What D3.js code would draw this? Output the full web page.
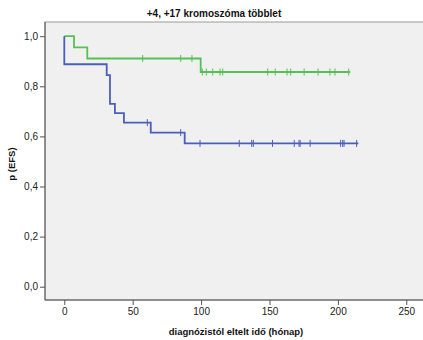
<!DOCTYPE html>
<html lang="hu">
<head>
<meta charset="utf-8">
<title>+4, +17 kromoszóma többlet</title>
<script src="https://d3js.org/d3.v7.min.js"></script>
<style>
    body { margin: 0; background: #fff; }
    svg { display: block; font-family: "Liberation Sans", Arial, sans-serif; }
    .axis text { font-size: 10px; fill: #222; }
    .axis path, .axis line { stroke: #555; }
</style>
</head>
<body>
<script>
// Kaplan-Meier steps: [time (month), survival]
const blueSteps = [[0, 1.0], [0, 0.888], [31, 0.845], [33.4, 0.730], [37, 0.693], [43.6, 0.655], [63.2, 0.615], [88, 0.572], [215, 0.572]];
const blueCensored = [60.7, 85.1, 99.2, 127.9, 137, 138.2, 152.2, 168.1, 171.6, 172.4, 179.7, 202, 203.5, 204.5, 213.7];
const greenSteps = [[0, 1.0], [7.1, 0.955], [16.8, 0.911], [99.7, 0.857], [209, 0.857]];
const greenCensored = [57.3, 85.1, 93.3, 100.9, 103.8, 108.5, 113.8, 115.8, 148.7, 154.2, 162.8, 165.5, 175.3, 185.5, 194.2, 197.9, 207.9];
const xTicks = [0, 50, 100, 150, 200, 250];
const yTicks = [0, 0.2, 0.4, 0.6, 0.8, 1.0];

const w = 423, h = 340;
const plot = {left: 45, top: 22, right: 430, bottom: 300};

const svg = d3.select("body").append("svg")
    .attr("width", w)
    .attr("height", h);

const x = d3.scaleLinear().domain([0, 250]).range([64.3, 406.3]);
const y = d3.scaleLinear().domain([0, 1]).range([286.7, 36.2]);

// plot background + frame
svg.append("rect")
    .attr("x", plot.left).attr("y", plot.top)
    .attr("width", plot.right - plot.left).attr("height", plot.bottom - plot.top)
    .attr("fill", "#f0f0f0")
    .attr("stroke", "#999").attr("stroke-width", 1);

const yAxis = d3.axisLeft(y).tickValues(yTicks).tickSize(5).tickPadding(2)
    .tickFormat(d => d3.format(".1f")(d).replace(".", ","));
svg.append("g").attr("class", "y axis")
    .attr("transform", `translate(${plot.left},0)`)
    .call(yAxis)
    .call(g => g.select(".domain").attr("d", `M0,${plot.top}V${plot.bottom}`));

const xAxis = d3.axisBottom(x).tickValues(xTicks).tickSize(5).tickPadding(3);
svg.append("g").attr("class", "x axis")
    .attr("transform", `translate(0,${plot.bottom})`)
    .call(xAxis)
    .call(g => g.select(".domain").attr("d", `M${plot.left},0H${plot.right}`));

// curves
function drawCurve(steps, censored, color) {
    const line = d3.line()
        .x(d => x(d[0]))
        .y(d => y(d[1]))
        .curve(d3.curveStepAfter);
    svg.append("path")
        .datum(steps)
        .attr("fill", "none")
        .attr("stroke", color)
        .attr("stroke-width", 1.8)
        .attr("d", line);

    // survival value at a time
    const valueAt = t => {
        let v = steps[0][1];
        steps.forEach(s => { if (s[0] <= t) v = s[1]; });
        return v;
    };
    svg.append("g").selectAll("line")
        .data(censored)
        .join("line")
        .attr("x1", d => x(d)).attr("x2", d => x(d))
        .attr("y1", d => y(valueAt(d)) - 3.5)
        .attr("y2", d => y(valueAt(d)) + 3.5)
        .attr("stroke", color)
        .attr("stroke-width", 1);
}
drawCurve(greenSteps, greenCensored, "#55c055");
drawCurve(blueSteps, blueCensored, "#4a5fb8");

// title and axis labels
svg.append("text")
    .attr("x", 214).attr("y", 17)
    .attr("text-anchor", "middle")
    .style("font-size", "10px").style("font-weight", "bold").attr("fill", "#111")
    .text("+4, +17 kromoszóma többlet");

svg.append("text")
    .attr("x", 236).attr("y", 335)
    .attr("text-anchor", "middle")
    .style("font-size", "9.5px").style("font-weight", "bold").attr("fill", "#111")
    .text("diagnózistól eltelt idő (hónap)");

svg.append("text")
    .attr("transform", "translate(15,164) rotate(-90)")
    .attr("text-anchor", "middle")
    .style("font-size", "9.5px").style("font-weight", "bold").attr("fill", "#111")
    .text("p (EFS)");
</script>
</body>
</html>
